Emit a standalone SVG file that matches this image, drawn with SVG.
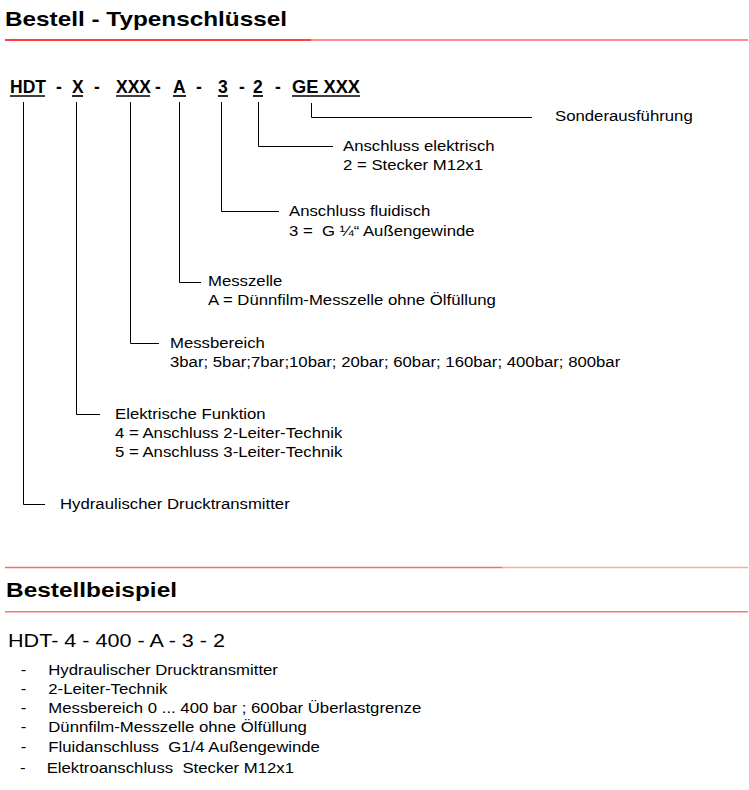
<svg xmlns="http://www.w3.org/2000/svg" width="749" height="790" viewBox="0 0 749 790">
<style>
text{font-family:"Liberation Sans",Arial,sans-serif;fill:#000}
.h{font-weight:bold}
.code{font-weight:bold;font-size:17.5px}
.b{font-size:15.5px}
.ex{font-size:18.7px}
.c{stroke:#000;stroke-width:1;fill:none}
.u{stroke:#000;stroke-width:1.7}
</style>
<rect width="749" height="790" fill="#fff"/>
<g id="header1">
<text class="h" x="5" y="26" font-size="21" textLength="282" lengthAdjust="spacingAndGlyphs">Bestell - Typenschlüssel</text>
<line x1="5" y1="40" x2="311" y2="40" stroke="#ff0000" stroke-width="1.4"/>
<line x1="311" y1="40" x2="748" y2="40" stroke="#ff6666" stroke-width="1.4"/>
</g>
<g id="code">
<text class="code" x="10" y="92.7">HDT</text>
<text class="code" x="59" y="92.7" text-anchor="middle">-</text>
<text class="code" x="72" y="92.7">X</text>
<text class="code" x="97" y="92.7" text-anchor="middle">-</text>
<text class="code" x="116" y="92.7">XXX</text>
<text class="code" x="158" y="92.7" text-anchor="middle">-</text>
<text class="code" x="173" y="92.7">A</text>
<text class="code" x="199" y="92.7" text-anchor="middle">-</text>
<text class="code" x="218" y="92.7">3</text>
<text class="code" x="242" y="92.7" text-anchor="middle">-</text>
<text class="code" x="253" y="92.7">2</text>
<text class="code" x="278" y="92.7" text-anchor="middle">-</text>
<text class="code" x="292" y="92.7" textLength="68" lengthAdjust="spacingAndGlyphs">GE XXX</text>
<line class="u" x1="10" y1="96" x2="45" y2="96"/>
<line class="u" x1="72" y1="96" x2="83" y2="96"/>
<line class="u" x1="116" y1="96" x2="150" y2="96"/>
<line class="u" x1="173" y1="96" x2="186" y2="96"/>
<line class="u" x1="218" y1="96" x2="228" y2="96"/>
<line class="u" x1="253" y1="96" x2="263" y2="96"/>
<line class="u" x1="292" y1="96" x2="360" y2="96"/>
</g>
<g id="connectors">
<polyline class="c" points="23.5,102 23.5,504.5 45,504.5"/>
<polyline class="c" points="76.5,102 76.5,414.5 100,414.5"/>
<polyline class="c" points="130.5,102 130.5,343.5 159,343.5"/>
<polyline class="c" points="179.5,102 179.5,282.5 201,282.5"/>
<polyline class="c" points="221.5,102 221.5,211.5 279,211.5"/>
<polyline class="c" points="258.5,102 258.5,146.5 333,146.5"/>
<polyline class="c" points="311.5,103 311.5,117.5 532,117.5"/>
</g>
<g transform="scale(1.08 1)">
<g id="sonder"><text class="b" x="513.9" y="121">Sonderausführung</text></g>
<g id="elektrisch"><text class="b" x="317.6" y="151.5">Anschluss elektrisch</text>
<text class="b" x="317.6" y="170.5">2 = Stecker M12x1</text></g>
<g id="fluidisch"><text class="b" x="267.6" y="216.5">Anschluss fluidisch</text>
<text class="b" x="267.6" y="236" xml:space="preserve">3 =  G ¼“ Außengewinde</text></g>
<g id="messzelle"><text class="b" x="192.6" y="286">Messzelle</text>
<text class="b" x="192.6" y="305">A = Dünnfilm-Messzelle ohne Ölfüllung</text></g>
<g id="messbereich"><text class="b" x="157.4" y="348.3">Messbereich</text>
<text class="b" x="157.4" y="367.5">3bar; 5bar;7bar;10bar; 20bar; 60bar; 160bar; 400bar; 800bar</text></g>
<g id="funktion"><text class="b" x="106.5" y="419.3">Elektrische Funktion</text>
<text class="b" x="106.5" y="438.3">4 = Anschluss 2-Leiter-Technik</text>
<text class="b" x="106.5" y="457.3">5 = Anschluss 3-Leiter-Technik</text></g>
<g id="hydraulisch"><text class="b" x="55.6" y="509.3">Hydraulischer Drucktransmitter</text></g>
</g>
<g id="header2">
<line x1="5" y1="567.5" x2="502" y2="567.5" stroke="#ff6b6b" stroke-width="1.4"/>
<line x1="502" y1="567.5" x2="748" y2="567.5" stroke="#ffaaaa" stroke-width="1.4"/>
<text class="h" x="6" y="597" font-size="19.5" textLength="171" lengthAdjust="spacingAndGlyphs">Bestellbeispiel</text>
<line x1="5" y1="611.7" x2="748" y2="611.7" stroke="#ff7777" stroke-width="1.4"/>
</g>
<g id="example">
<text class="ex" x="8" y="646.7" textLength="217" lengthAdjust="spacingAndGlyphs">HDT- 4 - 400 - A - 3 - 2</text>
<g transform="scale(1.08 1)">
<text class="b" x="19.2" y="675">-</text><text class="b" x="44.7" y="675">Hydraulischer Drucktransmitter</text>
<text class="b" x="19.2" y="694.3">-</text><text class="b" x="44.7" y="694.3">2-Leiter-Technik</text>
<text class="b" x="19.2" y="713.3">-</text><text class="b" x="44.7" y="713.3">Messbereich 0 ... 400 bar ; 600bar Überlastgrenze</text>
<text class="b" x="19.2" y="732.3">-</text><text class="b" x="44.7" y="732.3">Dünnfilm-Messzelle ohne Ölfüllung</text>
<text class="b" x="19.2" y="751.7">-</text><text class="b" x="44.7" y="751.7" xml:space="preserve">Fluidanschluss  G1/4 Außengewinde</text>
<text class="b" x="18.5" y="772.7">-</text><text class="b" x="43.2" y="772.7" xml:space="preserve">Elektroanschluss  Stecker M12x1</text>
</g>
</g>
</svg>
